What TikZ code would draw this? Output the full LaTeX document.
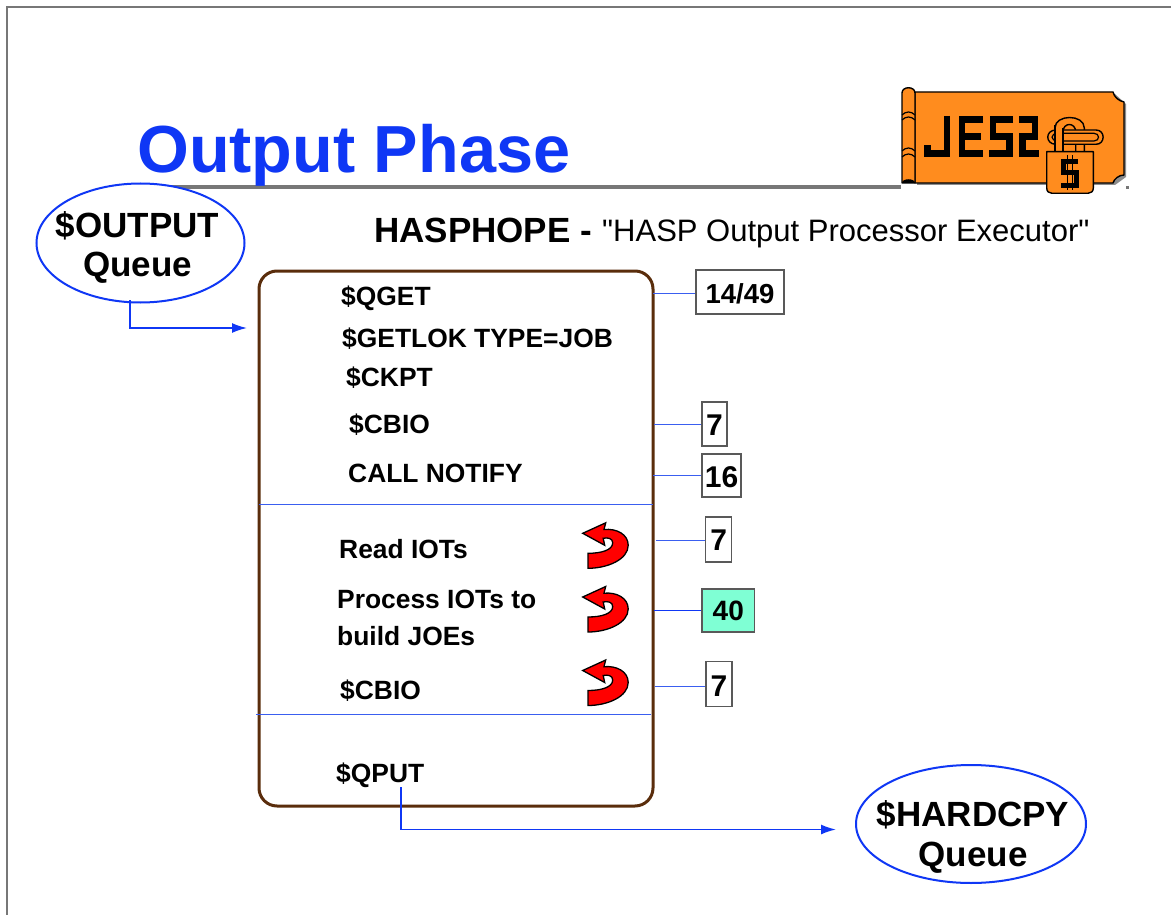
\documentclass[tikz,border=0pt]{standalone}
\usepackage{fontspec}
\setmainfont{Liberation Sans}
\newfontfamily\plainf{Liberation Sans}
\usetikzlibrary{arrows.meta,shapes.geometric}
\definecolor{tblue}{HTML}{0F37F5}
\definecolor{lblue}{HTML}{3A5EF0}
\definecolor{brownb}{HTML}{5A2D0C}
\definecolor{rulegray}{HTML}{777777}
\definecolor{jorange}{HTML}{FF8C1E}
\definecolor{teal40}{HTML}{7FFFD4}
\newcommand{\dropby}[2]{\raisebox{-#1pt}[\height][\depth]{#2}}
\tikzset{
  queue/.style={ellipse,draw=tblue,line width=2pt,fill=white,inner sep=0pt},
  queuetext/.style={inner sep=0pt,align=center,font=\fontsize{35}{39.5}\selectfont\bfseries},
  item/.style={anchor=west,inner sep=0pt,font=\fontsize{26.4}{32}\selectfont\bfseries},
  numbox/.style={draw=black!65,line width=1.2pt,fill=white,inner sep=0pt,font=\fontsize{30}{34}\selectfont\bfseries},
  link/.style={draw=lblue,line width=1pt},
  flow/.style={draw=tblue,line width=1.7pt,-{Latex[length=15pt,width=10pt]}},
  logoline/.style={draw=black,line width=1.4pt,line join=round},
  jes/.style={draw=black,line width=6.5pt,line cap=butt,line join=miter},
  pics/uturn/.style={code={
    \path[fill=red,draw=black,line width=1.3pt,line join=miter]
      (0,0) -- (23,-10.5) -- (21.3,-3.8)
      .. controls (34,-5) and (45.5,1) .. (45.5,12)
      .. controls (45.5,26) and (25,35) .. (5.3,35) -- (5.3,20)
      .. controls (18,20) and (30,17) .. (30,9.5)
      .. controls (30,5) and (25,4) .. (20.5,5) -- (22,12) -- cycle;
  }}
}
\begin{document}
\begin{tikzpicture}[x=1pt,y=-1pt]
\useasboundingbox (0,0) rectangle (1171,915);
\fill[white] (0,0) rectangle (1171,915);
% slide frame
\draw[rulegray,line width=1.3pt] (7,915) -- (7,7) -- (1171,7);
% title and rule
\fill[rulegray] (137,185) rectangle (901,189.5);
\fill[rulegray] (1126,186) rectangle (1129,189.5);
\node[anchor=base west,inner sep=0pt,text=tblue,font=\fontsize{66.6}{70}\selectfont\bfseries] (title) at (137,173) {Output Phase};
% logo
\begin{scope}
\path[fill=black!45] (917,94) -- (1115,94) -- (1126,104) -- (1126,177) -- (1115,185) -- (917,185) -- cycle;
\path[fill=jorange,logoline] (915,92) -- (1113,92) .. controls (1114,97) and (1119,101) .. (1124,102) -- (1124,175) .. controls (1119,175) and (1114,179) .. (1113,183) -- (915,183) -- cycle;
\path[fill=jorange,logoline] (902,183) -- (902,93) .. controls (902,86) and (915,86) .. (915,93) -- (915,183) -- cycle;
\fill[black] (902,183) .. controls (902,178) and (915,178) .. (915,183) -- cycle;
\draw[black,line width=1.2pt] (902,115) .. controls (906,111) and (911,111) .. (915,115) (902,120) .. controls (906,116) and (911,116) .. (915,120) (902,151) .. controls (906,147) and (911,147) .. (915,151) (902,157) .. controls (906,153) and (911,153) .. (915,157);
% letters
\draw[jes] (947,116) -- (947,153.7) -- (927.5,153.7) -- (927.5,145);
\draw[jes] (983,119.3) -- (962,119.3) -- (962,153.7) -- (983,153.7) (962,136.5) -- (981,136.5);
\draw[jes] (1013,119.3) -- (993,119.3) -- (993,136.5) -- (1009.5,136.5) -- (1009.5,153.7) -- (989,153.7);
\draw[jes] (1019,119.3) -- (1035,119.3) -- (1035,136.5) -- (1022.5,136.5) -- (1022.5,153.7) -- (1039,153.7);
% padlock: shackle, then chain link over its right leg, then left leg
\path[fill=jorange,logoline] (1055,153) -- (1055,128) .. controls (1055,114) and (1084.3,114) .. (1084.3,128) -- (1084.3,153) -- (1075.7,153) -- (1075.7,132) .. controls (1075.7,122) and (1063,122) .. (1063,132) -- (1063,153) -- cycle;
\path[fill=jorange,logoline] (1056,130) -- (1096,130) .. controls (1105.5,130) and (1105.5,144.3) .. (1096,144.3) -- (1056,144.3) .. controls (1045,144.3) and (1045,130) .. (1056,130) -- cycle;
\path[draw=black,line width=1.2pt] (1058,133.3) -- (1094,133.3) .. controls (1100,133.3) and (1100,141) .. (1094,141) -- (1058,141) .. controls (1050,141) and (1050,133.3) .. (1058,133.3) -- cycle;
\path[fill=jorange,draw=none] (1056,128) rectangle (1063,153);
\draw[black,line width=1.4pt] (1055,153) -- (1055,125) (1063,153) -- (1063,128);
% padlock body
\path[fill=jorange,logoline] (1046.7,151.7) -- (1093.3,151.7) -- (1093.3,188) .. controls (1093.3,191.5) and (1091,193.3) .. (1088,193.3) -- (1052,193.3) .. controls (1049,193.3) and (1046.7,191.5) .. (1046.7,188) -- cycle;
\draw[black,line width=5pt,line cap=butt,line join=miter] (1078,162) -- (1063.5,162) -- (1063.5,173) -- (1076,173) -- (1076,185.5) -- (1061,185.5);
\draw[black,line width=1.6pt] (1067.3,155) -- (1067.3,190) (1072.3,155) -- (1072.3,190);
\end{scope}
% queues
\node[queue,minimum width=208pt,minimum height=119pt] (outq) at (140.5,243) {};
\node[queuetext] (outt) at (137.5,247.5) {\$OUTPUT\\Queue};
\node[queue,minimum width=230pt,minimum height=118pt] (hardq) at (971,824) {};
\node[queuetext] (hardt) at (973,837) {\$HARDCPY\\Queue};
% subtitle
\node[anchor=base west,inner sep=0pt,font=\fontsize{35}{40}\selectfont\bfseries] (hasp) at (374,243) {HASPHOPE -};
\node[anchor=base west,inner sep=0pt,font=\plainf\fontsize{31}{34}\selectfont] (haspd) at (602,241.5) {"HASP Output Processor Executor"};
% main box
\node[draw=brownb,line width=3pt,rounded corners=18pt,minimum width=394pt,minimum height=535pt,inner sep=0pt] (main) at (456,538.5) {};
\coordinate (d1a) at (259,504); \coordinate (d1b) at (653,504);
\coordinate (d2a) at (256,714); \coordinate (d2b) at (651,714);
\draw[link] (d1a) -- (d1b);
\draw[link] (d2a) -- (d2b);
% items
\node[item] (i1) at (341,298) {\$QGET};
\node[item] (i2) at (342,339) {\$GETLOK TYPE=JOB};
\node[item] (i3) at (346,378) {\$CKPT};
\node[item] (i4) at (349,425) {\$CBIO};
\node[item] (i5) at (348,473) {CALL NOTIFY};
\node[item] (i6) at (339,549) {Read IOTs};
\node[item,anchor=north west,align=left,font=\fontsize{26.4}{36.5}\selectfont\bfseries] (i7) at (337,590) {Process IOTs to\\build JOEs};
\node[item] (i8) at (340,691) {\$CBIO};
\node[item] (i9) at (336,775) {\$QPUT};
% u-turn arrows
\path (582.7,533.3) pic {uturn};
\path (582.7,597) pic {uturn};
\path (582.7,670.5) pic {uturn};
% number boxes
\node[numbox,minimum width=88pt,minimum height=44pt,font=\fontsize{27.5}{30}\selectfont\bfseries] (n1) at (740,292) {\dropby{2}{14/49}};
\node[numbox,minimum width=25pt,minimum height=44pt] (n2) at (714.5,424) {\dropby{1}{7}};
\node[numbox,minimum width=39pt,minimum height=43pt] (n3) at (721.5,475.5) {\dropby{2}{16}};
\node[numbox,minimum width=26pt,minimum height=45pt] (n4) at (718.7,539.5) {\dropby{1}{7}};
\node[numbox,fill=teal40,minimum width=52.5pt,minimum height=43pt,font=\fontsize{28}{30}\selectfont\bfseries] (n5) at (728.3,610.5) {40};
\node[numbox,minimum width=26pt,minimum height=45pt] (n6) at (719,683.7) {\dropby{2}{7}};
% connectors
\coordinate (c1) at (653,293.5); \coordinate (c2) at (654,424.5);
\coordinate (c3) at (653,475.5); \coordinate (c4) at (656,540.5);
\coordinate (c5) at (654,610.5); \coordinate (c6) at (655,686.5);
\draw[link] (c1) -- (c1 -| n1.west);
\draw[link] (c2) -- (c2 -| n2.west);
\draw[link] (c3) -- (c3 -| n3.west);
\draw[link] (c4) -- (c4 -| n4.west);
\draw[draw=tblue,line width=1.2pt] (c5) -- (c5 -| n5.west);
\draw[link] (c6) -- (c6 -| n6.west);
% flows
\coordinate (f1a) at (130,300); \coordinate (f1b) at (247,328);
\coordinate (f2a) at (401,787); \coordinate (f2b) at (836,829.5);
\draw[flow] (f1a) |- (f1b);
\draw[flow] (f2a) |- (f2b);
\end{tikzpicture}
\end{document}
